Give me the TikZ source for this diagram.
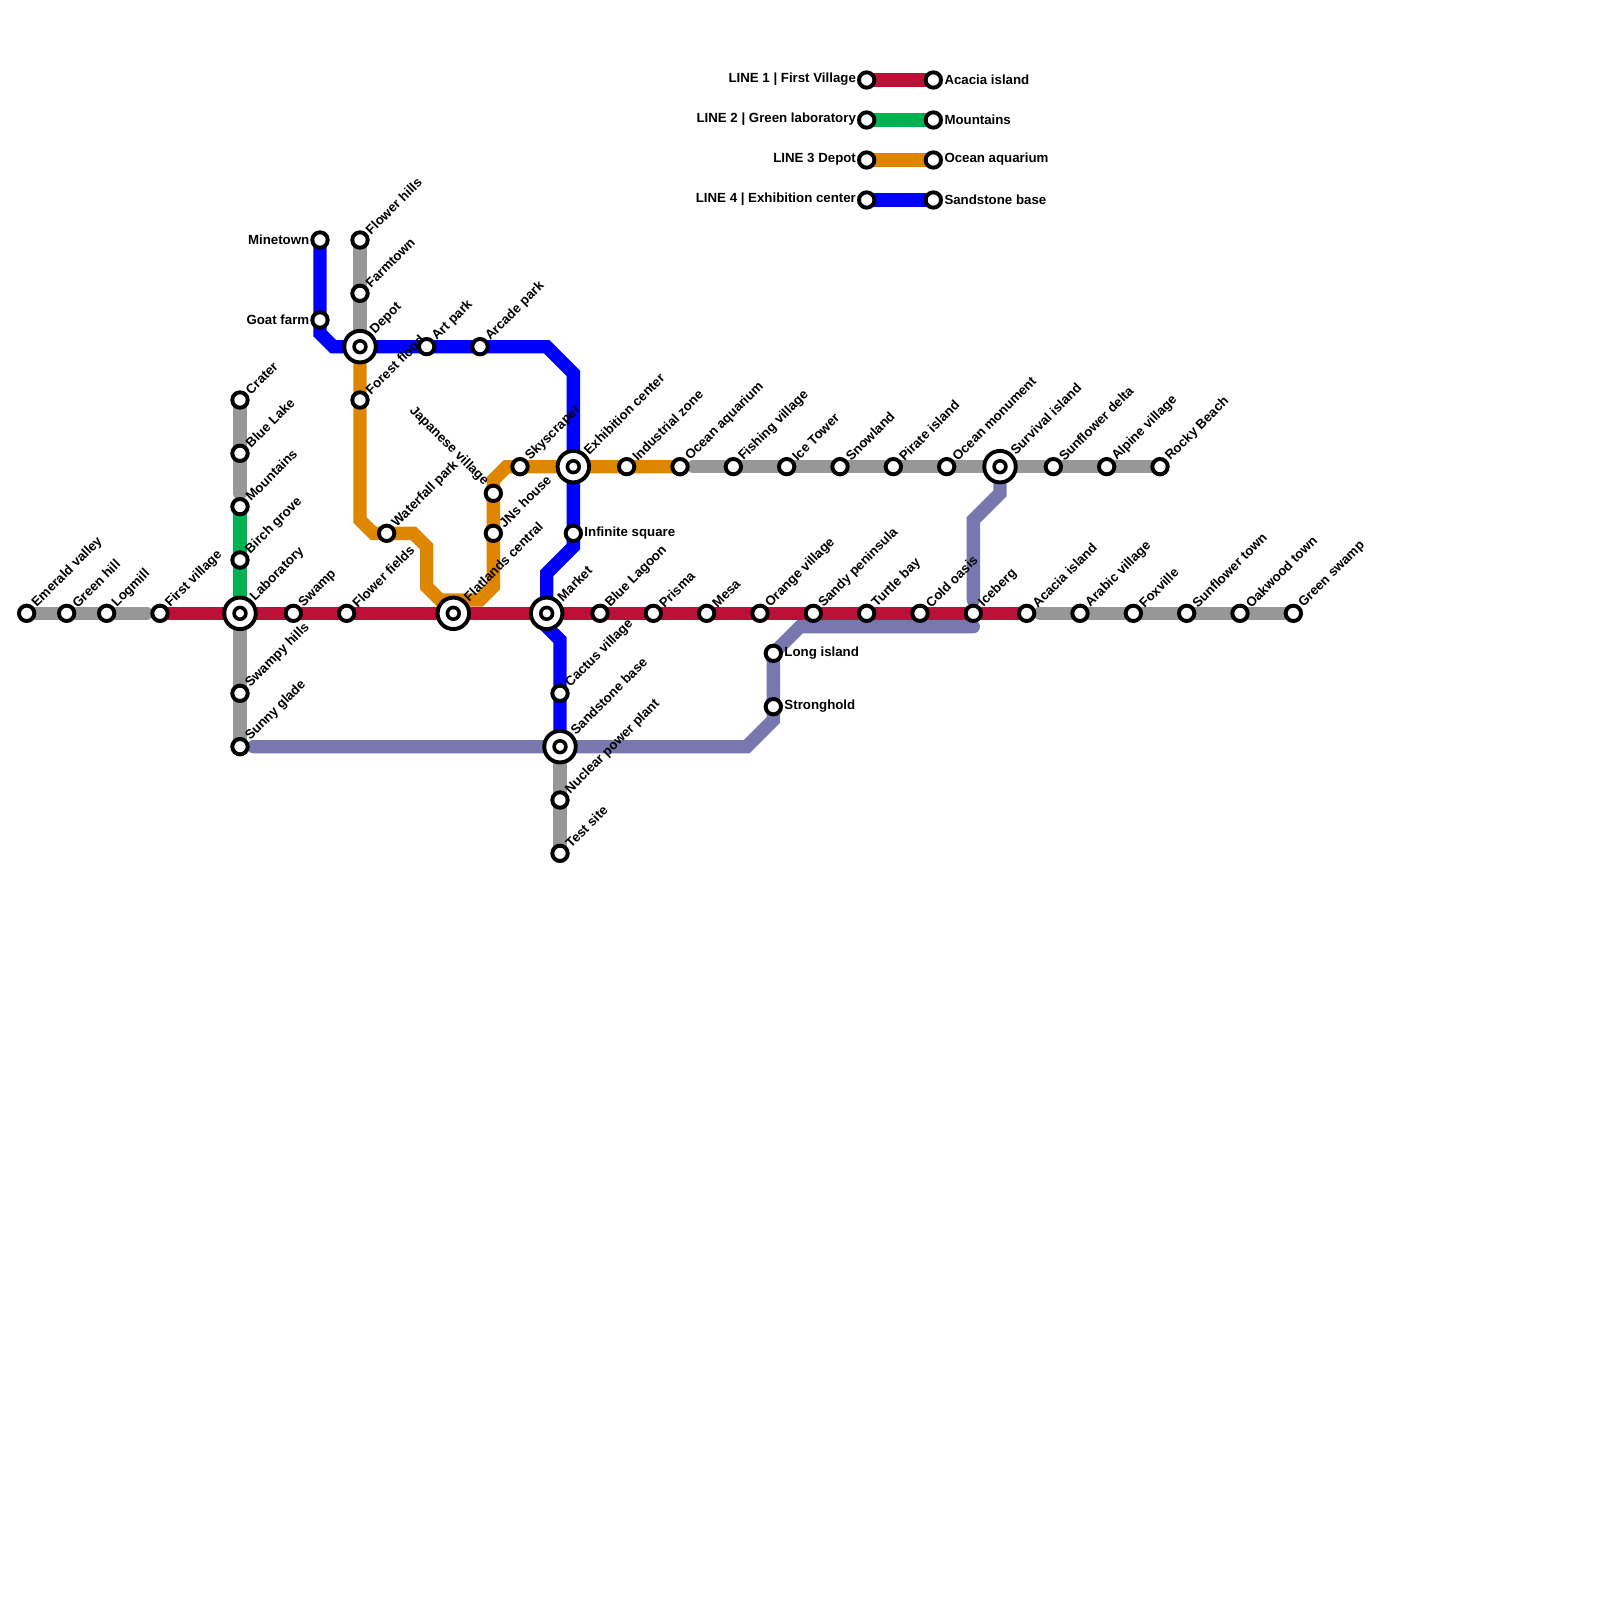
\documentclass[tikz,border=0pt]{standalone}
\usepackage{fontspec}
\setmainfont{Liberation Sans}
\usepackage{xcolor}
\usetikzlibrary{backgrounds}
\definecolor{lineRed}{HTML}{BD1038}
\definecolor{lineGreen}{HTML}{00B251}
\definecolor{lineOrange}{HTML}{DF8600}
\definecolor{lineBlue}{HTML}{0000FF}
\definecolor{linePurple}{HTML}{7878AF}
\definecolor{lineGray}{HTML}{979797}

\begin{document}
\begin{tikzpicture}[
    x=0.25cm, y=-0.25cm,
    font=\bfseries\fontsize{7.08}{8.5}\selectfont,
    metro/.style={line width=0.25cm, line cap=round, line join=miter},
    stn/.style={
      circle, draw=black, fill=white, line width=2.1pt,
      inner sep=0pt, minimum size=8.2pt
    },
    hub/.style={
      stn, minimum size=16.8pt,
      path picture={
        \draw[black, line width=1.9pt] (path picture bounding box.center) circle (3.15pt);
      }
    },
    lblup/.style={rotate=45, anchor=west, inner sep=0pt},
    lbldown/.style={rotate=-45, anchor=east, inner sep=0pt},
    lblleft/.style={anchor=east, inner sep=0pt, yshift=0.3pt},
    lblright/.style={anchor=west, inner sep=0pt, yshift=0.3pt},
    ne/.style={label={[lblup, label distance=1pt, yshift=-0.6pt]45:#1}},
    nehub/.style={label={[lblup, label distance=1pt]45:#1}},
    nw/.style={label={[lbldown, label distance=1.5pt]135:#1}},
    wl/.style={label={[lblleft, label distance=0.4pt]180:#1}},
    el/.style={label={[lblright, label distance=0.6pt]0:#1}},
  ]
    \useasboundingbox (0,0) rectangle (120,120);

    % legend
    \node[stn, wl={LINE 1 | First Village}]      (keyOneA)   at (65,6)  {};
    \node[stn, el={Acacia island}]               (keyOneB)   at (70,6)  {};
    \node[stn, wl={LINE 2 | Green laboratory}]   (keyTwoA)   at (65,9)  {};
    \node[stn, el={Mountains}]                   (keyTwoB)   at (70,9)  {};
    \node[stn, wl={LINE 3 Depot}]                (keyThreeA) at (65,12) {};
    \node[stn, el={Ocean aquarium}]              (keyThreeB) at (70,12) {};
    \node[stn, wl={LINE 4 | Exhibition center}]  (keyFourA)  at (65,15) {};
    \node[stn, el={Sandstone base}]              (keyFourB)  at (70,15) {};

    % row y=46
    \node[stn, ne={Emerald valley}]  (emerald)   at (2,46)  {};
    \node[stn, ne={Green hill}]      (greenhill) at (5,46)  {};
    \node[stn, ne={Logmill}]         (logmill)   at (8,46)  {};
    \node[stn, ne={First village}]   (firstv)    at (12,46) {};
    \node[hub, nehub={Laboratory}]   (lab)       at (18,46) {};
    \node[stn, ne={Swamp}]           (swamp)     at (22,46) {};
    \node[stn, ne={Flower fields}]   (ffields)   at (26,46) {};
    \node[hub, nehub={Flatlands central}] (flatlands) at (34,46) {};
    \node[hub, nehub={Market}]       (market)    at (41,46) {};
    \node[stn, ne={Blue Lagoon}]     (lagoon)    at (45,46) {};
    \node[stn, ne={Prisma}]          (prisma)    at (49,46) {};
    \node[stn, ne={Mesa}]            (mesa)      at (53,46) {};
    \node[stn, ne={Orange village}]  (orangev)   at (57,46) {};
    \node[stn, ne={Sandy peninsula}] (sandy)     at (61,46) {};
    \node[stn, ne={Turtle bay}]      (turtle)    at (65,46) {};
    \node[stn, ne={Cold oasis}]      (coldoasis) at (69,46) {};
    \node[stn, ne={Iceberg}]         (iceberg)   at (73,46) {};
    \node[stn, ne={Acacia island}]   (acacia)    at (77,46) {};
    \node[stn, ne={Arabic village}]  (arabic)    at (81,46) {};
    \node[stn, ne={Foxville}]        (foxville)  at (85,46) {};
    \node[stn, ne={Sunflower town}]  (sunftown)  at (89,46) {};
    \node[stn, ne={Oakwood town}]    (oakwood)   at (93,46) {};
    \node[stn, ne={Green swamp}]     (gswamp)    at (97,46) {};

    % row y=35
    \node[stn, ne={Skyscraper}]        (skyscraper) at (39,35) {};
    \node[hub, nehub={Exhibition center}] (exhibition) at (43,35) {};
    \node[stn, ne={Industrial zone}]   (industrial) at (47,35) {};
    \node[stn, ne={Ocean aquarium}]    (aquarium)   at (51,35) {};
    \node[stn, ne={Fishing village}]   (fishing)    at (55,35) {};
    \node[stn, ne={Ice Tower}]         (icetower)   at (59,35) {};
    \node[stn, ne={Snowland}]          (snowland)   at (63,35) {};
    \node[stn, ne={Pirate island}]     (pirate)     at (67,35) {};
    \node[stn, ne={Ocean monument}]    (monument)   at (71,35) {};
    \node[hub, nehub={Survival island}] (survival)  at (75,35) {};
    \node[stn, ne={Sunflower delta}]   (sunfdelta)  at (79,35) {};
    \node[stn, ne={Alpine village}]    (alpine)     at (83,35) {};
    \node[stn, ne={Rocky Beach}]       (rocky)      at (87,35) {};

    % columns
    \node[stn, ne={Crater}]      (crater)    at (18,30) {};
    \node[stn, ne={Blue Lake}]   (bluelake)  at (18,34) {};
    \node[stn, ne={Mountains}]   (mountains) at (18,38) {};
    \node[stn, ne={Birch grove}] (birch)     at (18,42) {};
    \node[stn, ne={Swampy hills}] (swampy)   at (18,52) {};
    \node[stn, ne={Sunny glade}] (sunny)     at (18,56) {};
    \node[stn, wl={Minetown}]    (minetown)  at (24,18) {};
    \node[stn, wl={Goat farm}]   (goatfarm)  at (24,24) {};
    \node[stn, ne={Flower hills}] (fhills)   at (27,18) {};
    \node[stn, ne={Farmtown}]    (farmtown)  at (27,22) {};
    \node[hub, nehub={Depot}]    (depot)     at (27,26) {};
    \node[stn, ne={Forest flood}] (fflood)   at (27,30) {};
    \node[stn, ne={Art park}]    (artpark)   at (32,26) {};
    \node[stn, ne={Arcade park}] (arcade)    at (36,26) {};
    \node[stn, ne={Waterfall park}] (waterfall) at (29,40) {};
    \node[stn, nw={Japanese village}] (japanese) at (37,37) {};
    \node[stn, ne={JNs house}]   (jns)       at (37,40) {};
    \node[stn, el={Infinite square}] (infinite) at (43,40) {};
    \node[stn, ne={Cactus village}] (cactus) at (42,52) {};
    \node[hub, nehub={Sandstone base}] (sandstone) at (42,56) {};
    \node[stn, ne={Nuclear power plant}] (nuclear) at (42,60) {};
    \node[stn, ne={Test site}]   (testsite)  at (42,64) {};
    \node[stn, el={Long island}] (longisl)   at (58,49) {};
    \node[stn, el={Stronghold}]  (stronghold) at (58,53) {};

    % free ends and bends
    \coordinate (grayEndA)  at (11,46);
    \coordinate (grayEndB)  at (78,46);
    \coordinate (grayEndC)  at (52,35);
    \coordinate (grayEndD)  at (18,37);
    \coordinate (purpStart) at (19,56);

    \begin{scope}[on background layer]
      \draw[metro, lineGray] (emerald.center) -- (grayEndA);
      \draw[metro, lineGray] (grayEndB) -- (gswamp.center);
      \draw[metro, lineGray] (grayEndC) -- (rocky.center);
      \draw[metro, lineGray] (crater.center) -- (grayEndD);
      \draw[metro, lineGray] (lab.center) -- (sunny.center);
      \draw[metro, lineGray] (fhills.center) -- (depot.center);
      \draw[metro, lineGray] (sandstone.center) -- (testsite.center);

      \draw[metro, linePurple] (purpStart) -- (56,56) -- (58,54) -- (58,49) -- (60,47) -- (73,47);
      \draw[metro, linePurple] (survival.center) -- (75,37) -- (73,39) -- (73,45);

      \draw[metro, lineOrange] (depot.center) -- (27,39) -- (28,40) -- (31,40) -- (32,41) -- (32,44)
        -- (33,45) -- (36,45) -- (37,44) -- (37,36) -- (38,35) -- (aquarium.center);
      \draw[metro, lineBlue] (minetown.center) -- (24,25) -- (25,26) -- (41,26) -- (43,28) -- (43,41)
        -- (41,43) -- (41,47) -- (42,48) -- (sandstone.center);
      \draw[metro, lineGreen] (mountains.center) -- (lab.center);
      \draw[metro, lineRed] (firstv.center) -- (acacia.center);

      \draw[metro, lineRed]    (keyOneA.center)   -- (keyOneB.center);
      \draw[metro, lineGreen]  (keyTwoA.center)   -- (keyTwoB.center);
      \draw[metro, lineOrange] (keyThreeA.center) -- (keyThreeB.center);
      \draw[metro, lineBlue]   (keyFourA.center)  -- (keyFourB.center);
    \end{scope}
  \end{tikzpicture}
\end{document}
